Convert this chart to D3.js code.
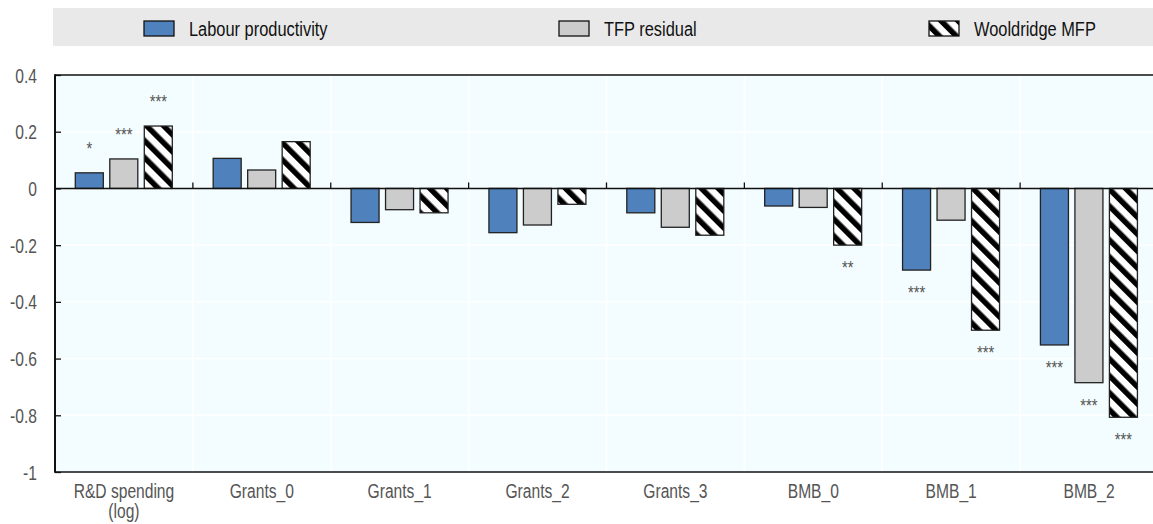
<!DOCTYPE html>
<html>
<head>
<meta charset="utf-8">
<script src="https://cdn.jsdelivr.net/npm/d3@7"></script>
<style>
  html, body { margin: 0; padding: 0; background: #fff; }
  svg { display: block; }
  text { font-family: "Liberation Sans Narrow", "Arial Narrow", "Liberation Sans", Arial, sans-serif; }
</style>
</head>
<body>
<svg id="chart" width="1153" height="524"></svg>
<script>
// Categories on the x axis (label lines)
const categories = ["R&D spending (log)", "Grants_0", "Grants_1", "Grants_2", "Grants_3", "BMB_0", "BMB_1", "BMB_2"];
const categoryLines = [["R&D spending", "(log)"], ["Grants_0"], ["Grants_1"], ["Grants_2"], ["Grants_3"], ["BMB_0"], ["BMB_1"], ["BMB_2"]];

// Series names
const seriesNames = ["Labour productivity", "TFP residual", "Wooldridge MFP"];

// Estimated coefficients per series
const labourProductivity = [0.055, 0.106, -0.120, -0.156, -0.086, -0.062, -0.288, -0.552];
const tfpResidual        = [0.104, 0.065, -0.075, -0.129, -0.137, -0.067, -0.112, -0.685];
const wooldridgeMFP      = [0.220, 0.165, -0.086, -0.056, -0.165, -0.200, -0.500, -0.807];

// Significance markers per series
const labourStars      = ["*", "", "", "", "", "", "***", "***"];
const tfpStars         = ["***", "", "", "", "", "", "", "***"];
const wooldridgeStars  = ["***", "", "", "", "", "**", "***", "***"];

// Y axis ticks
const yTicks = [0.4, 0.2, 0, -0.2, -0.4, -0.6, -0.8, -1];
const yTickLabels = ["0.4", "0.2", "0", "-0.2", "-0.4", "-0.6", "-0.8", "-1"];

const seriesValues = [labourProductivity, tfpResidual, wooldridgeMFP];
const seriesStars = [labourStars, tfpStars, wooldridgeStars];

const svg = d3.select("#chart");

const plotLeft = 55, plotRight = 1158, plotTop = 75, plotBottom = 472;

const x0 = d3.scaleBand().domain(categories).range([plotLeft, plotRight]).paddingInner(0).paddingOuter(0);
const x1 = d3.scaleBand().domain(seriesNames).range([20.3, 117.3]).paddingInner(0.188);
const y = d3.scaleLinear().domain([-1, 0.4]).range([plotBottom, plotTop]);

// Condensed text: squeeze each text run horizontally
function narrow(sel, factor) {
  sel.each(function () {
    const spans = this.querySelectorAll("tspan");
    const runs = spans.length ? Array.from(spans) : [this];
    runs.forEach(r => {
      const w = r.getComputedTextLength();
      if (w > 0) {
        r.setAttribute("textLength", (w * factor).toFixed(2));
        r.setAttribute("lengthAdjust", "spacingAndGlyphs");
      }
    });
  });
}

// Hatch pattern for the third series
const defs = svg.append("defs");
const pat = defs.append("pattern")
  .attr("id", "hatch")
  .attr("patternUnits", "userSpaceOnUse")
  .attr("width", 12).attr("height", 12)
  .attr("patternTransform", "rotate(-45)");
pat.append("rect").attr("width", 12).attr("height", 12).attr("fill", "#fff");
pat.append("rect").attr("x", 0).attr("width", 5.5).attr("height", 12).attr("fill", "#000");

const fills = ["#4f81bd", "#cccccc", "url(#hatch)"];

// Legend band
const legend = svg.append("g");
legend.append("rect")
  .attr("x", 53).attr("y", 8).attr("width", 1100).attr("height", 38)
  .attr("fill", "#e9e9e9");
const legendX = [144, 559, 929];
seriesNames.forEach((name, i) => {
  legend.append("rect")
    .attr("x", legendX[i]).attr("y", 21).attr("width", 30).attr("height", 15)
    .attr("fill", fills[i]).attr("stroke", "#111").attr("stroke-width", 1.3);
  legend.append("text")
    .attr("x", legendX[i] + 45).attr("y", 36)
    .attr("font-size", 20).attr("fill", "#111")
    .text(name)
    .call(narrow, 0.82);
});

// Plot background
svg.append("rect")
  .attr("x", plotLeft).attr("y", plotTop)
  .attr("width", plotRight - plotLeft).attr("height", plotBottom - plotTop)
  .attr("fill", "#f3fdff");

// White gridlines
const grid = svg.append("g");
yTicks.filter(t => t !== 0.4 && t !== -1 && t !== 0).forEach(t => {
  grid.append("line")
    .attr("x1", plotLeft).attr("x2", plotRight)
    .attr("y1", y(t)).attr("y2", y(t))
    .attr("stroke", "#fff").attr("stroke-width", 1.5);
});
categories.slice(1).forEach(c => {
  grid.append("line")
    .attr("x1", x0(c)).attr("x2", x0(c))
    .attr("y1", plotTop).attr("y2", plotBottom)
    .attr("stroke", "#fff").attr("stroke-width", 1.5);
});

// Bars
const barsG = svg.append("g");
categories.forEach((c, ci) => {
  seriesNames.forEach((s, si) => {
    const v = seriesValues[si][ci];
    barsG.append("rect")
      .attr("x", x0(c) + x1(s))
      .attr("y", y(Math.max(0, v)))
      .attr("width", x1.bandwidth())
      .attr("height", Math.abs(y(v) - y(0)))
      .attr("fill", fills[si])
      .attr("stroke", "#222").attr("stroke-width", 1.3);
  });
});

// Significance markers
const starsG = svg.append("g");
categories.forEach((c, ci) => {
  seriesNames.forEach((s, si) => {
    const st = seriesStars[si][ci];
    if (!st) return;
    const v = seriesValues[si][ci];
    starsG.append("text")
      .attr("x", x0(c) + x1(s) + x1.bandwidth() / 2)
      .attr("y", v >= 0 ? y(v) - 18 : y(v) + 29)
      .attr("text-anchor", "middle")
      .attr("font-size", 18).attr("fill", "#555")
      .text(st)
      .call(narrow, 0.82);
  });
});

// Frame: top and bottom borders, zero line
svg.append("line").attr("x1", plotLeft).attr("x2", plotRight).attr("y1", y(0.4)).attr("y2", y(0.4))
  .attr("stroke", "#111").attr("stroke-width", 1.5);
svg.append("line").attr("x1", plotLeft).attr("x2", plotRight).attr("y1", y(-1)).attr("y2", y(-1))
  .attr("stroke", "#111").attr("stroke-width", 1.5);
svg.append("line").attr("x1", plotLeft).attr("x2", plotRight).attr("y1", y(0)).attr("y2", y(0))
  .attr("stroke", "#111").attr("stroke-width", 1.6);

// X ticks on the zero line at category boundaries
categories.slice(1).forEach(c => {
  svg.append("line")
    .attr("x1", x0(c)).attr("x2", x0(c))
    .attr("y1", y(0)).attr("y2", y(0) - 6)
    .attr("stroke", "#111").attr("stroke-width", 1.3);
});

// Y axis
const yAxis = d3.axisRight(y)
  .tickValues(yTicks)
  .tickSize(6)
  .tickFormat((d, i) => yTickLabels[i]);
const yg = svg.append("g").attr("transform", `translate(${plotLeft},0)`).call(yAxis);
yg.select(".domain").remove();
yg.selectAll(".tick line").attr("stroke", "#111").attr("stroke-width", 1.3);
yg.selectAll(".tick text")
  .attr("x", -18).attr("text-anchor", "end")
  .attr("font-size", 20).attr("fill", "#555")
  .attr("dy", "0.35em")
  .call(narrow, 0.78);
svg.append("line").attr("x1", plotLeft).attr("x2", plotLeft).attr("y1", plotTop - 0.75).attr("y2", plotBottom + 0.75)
  .attr("stroke", "#111").attr("stroke-width", 2);

// X axis labels
const xl = svg.append("g");
categories.forEach((c, ci) => {
  const t = xl.append("text")
    .attr("x", x0(c) + x0.bandwidth() / 2)
    .attr("y", 498)
    .attr("text-anchor", "middle")
    .attr("font-size", 20).attr("fill", "#555");
  categoryLines[ci].forEach((line, li) => {
    t.append("tspan")
      .attr("x", x0(c) + x0.bandwidth() / 2)
      .attr("dy", li === 0 ? 0 : 20)
      .text(line);
  });
  t.call(narrow, 0.78);
});
</script>
</body>
</html>
